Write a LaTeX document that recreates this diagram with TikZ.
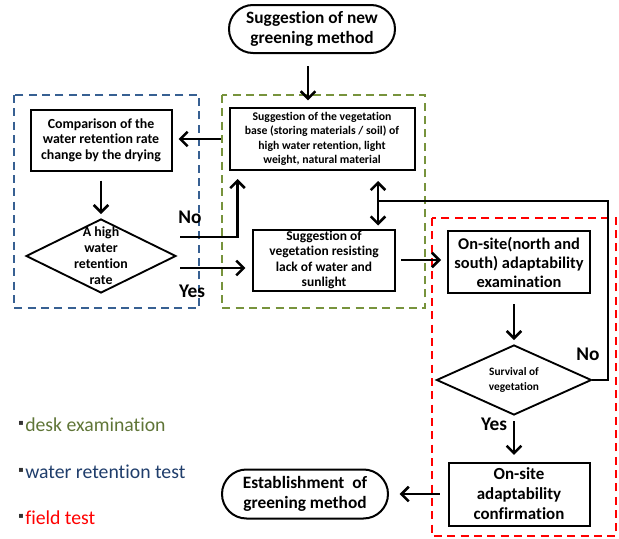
\documentclass[tikz,border=0pt]{standalone}
\usepackage{fontspec}
\setmainfont[Ligatures=NoCommon]{Carlito}
\newfontfamily\symfont{DejaVu Sans}
\usetikzlibrary{arrows.meta,shapes.geometric,shapes.misc}

\definecolor{deskgreen}{RGB}{119,147,60}
\definecolor{testblue}{RGB}{55,96,146}
\definecolor{deskgreentxt}{RGB}{95,117,55}
\definecolor{testbluetxt}{RGB}{31,61,107}

\tikzset{every picture/.style={line width=0.75pt}}
\tikzset{
  procbox/.style={draw,line width=1.5pt,align=center,inner sep=0pt},
  termbox/.style={draw,rounded rectangle,line width=1.5pt,align=center,inner sep=0pt,
    font=\fontsize{13}{15}\selectfont\bfseries},
  decision/.style={draw,diamond,line width=1.4pt,inner sep=0pt},
  flow/.style={line width=1.9pt},
  flowarr/.style={flow,-{Straight Barb[length=5.5pt,width=11pt]}},
  flowdbl/.style={flow,{Straight Barb[length=5.5pt,width=11pt]}-{Straight Barb[length=5.5pt,width=11pt]}},
  group/.style={dash pattern=on 6pt off 4pt,line width=1.5pt},
  answer/.style={inner sep=0pt,font=\fontsize{14.5}{16}\selectfont\bfseries},
  legend/.style={anchor=base west,inner sep=0pt,font=\fontsize{14.8}{16}\selectfont}
}
\newcommand{\legdot}{{\color{black!80}\symfont\fontsize{6}{6}\selectfont\raisebox{4pt}{▪}}\kern1pt}

\begin{document}
\begin{tikzpicture}[x=0.75pt,y=0.75pt,yscale=-1,xscale=1]
\useasboundingbox (0,0) rectangle (619,539);

%Group frames
\draw[group,testblue] (14,95) rectangle (199,308);
\draw[group,deskgreen] (222,95) rectangle (425,308);
\draw[group,red] (432,218) rectangle (616,536);

% Text Node
\node[termbox,minimum width=124.5pt,minimum height=36pt] (new) at (312,29) {Suggestion of new\\greening method};
% Text Node
\node[procbox,minimum width=138.75pt,minimum height=46.5pt,font=\fontsize{8.8}{10.7}\selectfont\bfseries] (base) at (322,139)
  {Suggestion of the vegetation\\base (storing materials / soil) of\\high water retention, light\\weight, natural material};
% Text Node
\node[procbox,minimum width=105.75pt,minimum height=45.75pt,font=\fontsize{10.4}{11.6}\selectfont\bfseries] (cmp) at (101,140)
  {Comparison of the\\water retention rate\\change by the drying};
% Text Node
\node[decision,minimum width=112.5pt,minimum height=55.5pt,
  label={[align=center,inner sep=0pt,font=\fontsize{10.4}{12}\selectfont\bfseries]center:A high\\water\\retention\\rate}] (high) at (101,256) {};
% Text Node
\node[procbox,minimum width=106.5pt,minimum height=45.75pt,font=\fontsize{10.1}{11.5}\selectfont\bfseries] (resist) at (324,260)
  {Suggestion of\\vegetation resisting\\lack of water and\\sunlight};
% Text Node
\node[procbox,minimum width=106.5pt,minimum height=46.5pt,font=\fontsize{12.3}{14.25}\selectfont\bfseries] (exam) at (519,262)
  {On-site(north and\\south) adaptability\\examination};
% Text Node
\node[decision,minimum width=116.25pt,minimum height=52.5pt,
  label={[align=center,inner sep=0pt,font=\fontsize{8.5}{11.2}\selectfont\bfseries]center:Survival of\\vegetation}] (surv) at (514,380) {};
% Text Node
\node[procbox,minimum width=105.75pt,minimum height=47.25pt,font=\fontsize{12.7}{15}\selectfont\bfseries] (conf) at (519,494)
  {On-site\\adaptability\\confirmation};
% Text Node
\node[termbox,minimum width=124.5pt,minimum height=36.75pt] (est) at (305,494) {Establishment\ \ of\\greening method};

% Answers
\node[answer] (no1) at (190,217) {No};
\node[answer] (yes1) at (192,291) {Yes};
\node[answer] (no2) at (588,354) {No};
\node[answer] (yes2) at (494,424) {Yes};

% Legend
\node[legend,text=deskgreentxt] (legDesk) at (18,431) {\legdot desk examination};
\node[legend,text=testbluetxt] (legWater) at (18,478) {\legdot water retention test};
\node[legend,text=red] (legField) at (18,524) {\legdot field test};

% Connections
\coordinate (noStart) at (180,237);
\coordinate (yesStart) at (180,268);
\coordinate (baseLink) at ([xshift=42pt]base.south);
\coordinate (loopCorner) at (608,201);
\draw[flowarr,shorten <=9pt,shorten >=5pt] ([xshift=-3pt]new.south) -- ([xshift=-3pt]new.south |- base.north);
\draw[flowarr,shorten <=6pt,shorten >=4.5pt] (base.west) -- (base.west -| cmp.east);
\draw[flowarr,shorten <=6.75pt,shorten >=3pt] (cmp.south) -- (high.north);
\draw[flowarr,shorten >=6pt] (noStart) -| ([xshift=6.75pt]base.south west);
\draw[flowarr,shorten >=5pt] (yesStart) -- (yesStart -| resist.west);
\draw[flowdbl,shorten <=7.5pt,shorten >=2.25pt] (baseLink) -- (baseLink |- resist.north);
\draw[flow] (surv.east) -| (loopCorner) -- (loopCorner -| baseLink);
\draw[flowarr,shorten <=3.75pt,shorten >=4.5pt] (resist.east) -- (resist.east -| exam.west);
\draw[flowarr,shorten <=7.5pt,shorten >=3pt] (surv.north |- exam.south) -- (surv.north);
\draw[flowarr,shorten <=4pt,shorten >=5pt] (surv.south) -- (surv.south |- conf.north);
\draw[flowarr,shorten <=6pt,shorten >=8pt] (conf.west) -- (est.east);

\end{tikzpicture}
\end{document}
